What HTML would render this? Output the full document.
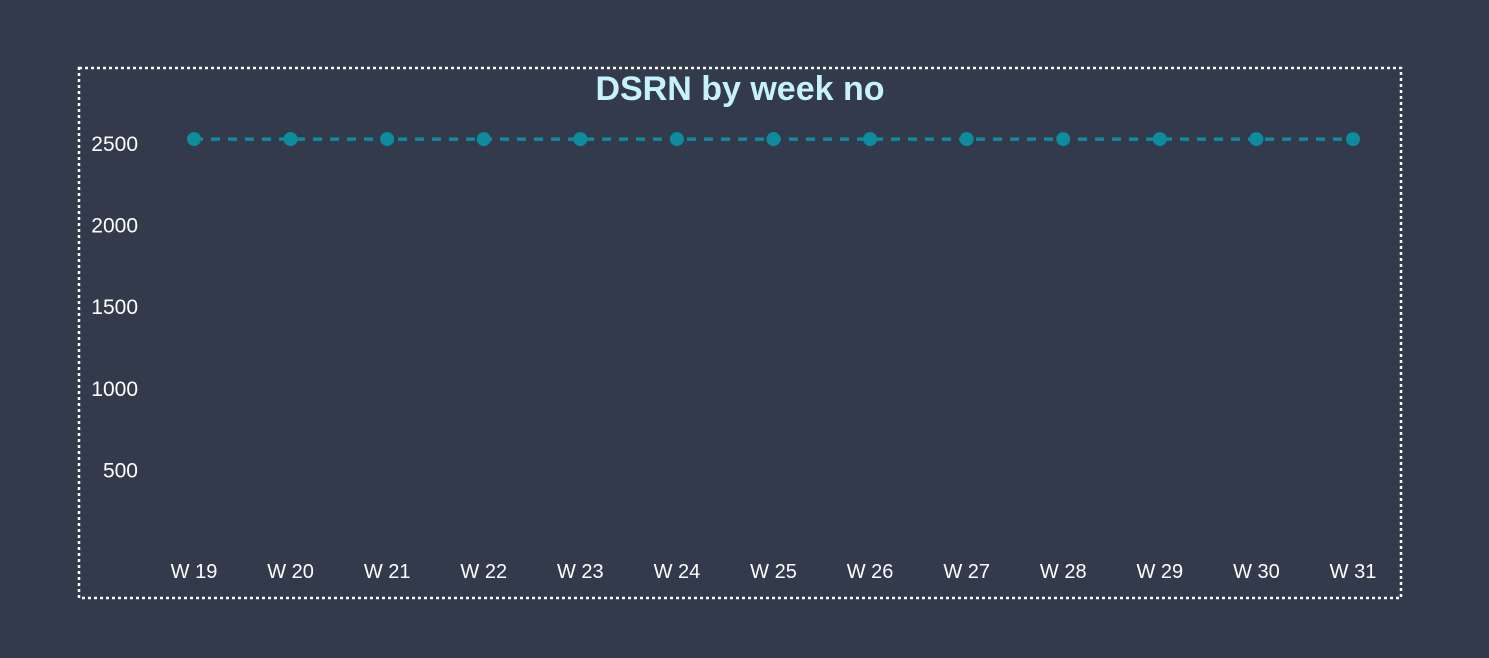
<!DOCTYPE html>
<html><head><meta charset="utf-8"><style>
html,body{margin:0;padding:0;background:#323a4c;width:1489px;height:658px;overflow:hidden}
svg{display:block;font-family:"Liberation Sans",sans-serif}
</style></head><body>
<svg id="chart" width="1489" height="658">
<rect x="79" y="68" width="1322" height="530" fill="none" stroke="#ffffff" stroke-width="2.5" stroke-dasharray="3,3"/>
<text x="740" y="100" text-anchor="middle" font-size="34" font-weight="bold" fill="#c6f3fb">DSRN by week no</text>
<g id="yaxis"></g><g id="xaxis"></g><g id="series"></g>
</svg>
<script>
const categories=["W 19","W 20","W 21","W 22","W 23","W 24","W 25","W 26","W 27","W 28","W 29","W 30","W 31"];
const values=[2530,2530,2530,2530,2530,2530,2530,2530,2530,2530,2530,2530,2530];
const yTicks=[500,1000,1500,2000,2500];
const NS="http://www.w3.org/2000/svg";
function y(v){return 552-v*0.1632;}
function x(i){return 194+i*(1353-194)/(categories.length-1);}
function mk(t,a,p){const e=document.createElementNS(NS,t);for(const k in a)e.setAttribute(k,a[k]);p.appendChild(e);return e;}
const ya=document.getElementById('yaxis'),xa=document.getElementById('xaxis'),s=document.getElementById('series');
yTicks.forEach(v=>{const t=mk('text',{x:138,y:y(v)+7,'text-anchor':'end','font-size':21,fill:'#ffffff'},ya);t.textContent=v;

});
categories.forEach((c,i)=>{const t=mk('text',{x:x(i),y:578,'text-anchor':'middle','font-size':20,fill:'#ffffff'},xa);t.textContent=c;

});
const pl=mk('polyline',{points:values.map((v,i)=>x(i)+','+y(v)).join(' '),fill:'none',stroke:'#0a8d9e','stroke-width':3.5,'stroke-dasharray':'9,8'},s);


values.forEach((v,i)=>{const c=mk('circle',{cx:x(i),cy:y(v),r:7,fill:'#0a8d9e'},s);

});
</script>
</body></html>
